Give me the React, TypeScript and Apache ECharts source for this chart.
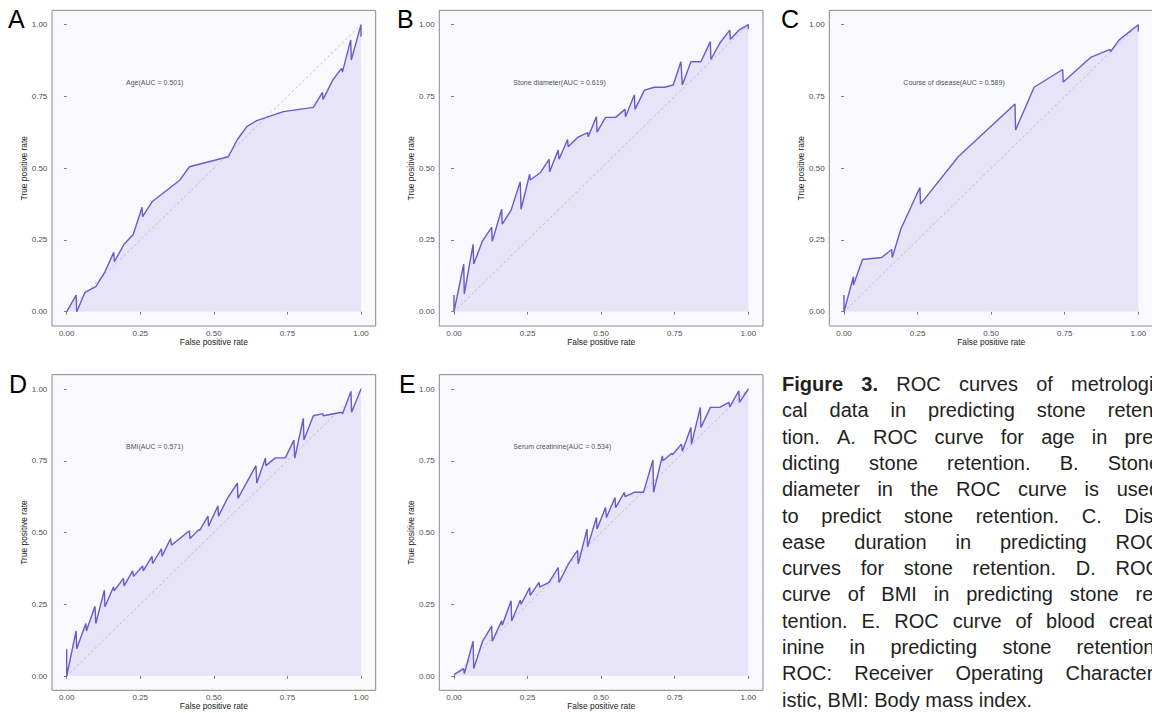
import React, { useEffect, useRef } from "react";
import * as echarts from "echarts";

// ---------------- data ----------------
const panelLetters = ["A", "B", "C", "D", "E"];
const annotations = [
  "Age(AUC = 0.501)",
  "Stone diameter(AUC = 0.619)",
  "Course of disease(AUC = 0.589)",
  "BMI(AUC = 0.571)",
  "Serum creatinine(AUC = 0.534)",
];
const xTitle = "False positive rate";
const yTitle = "True positive rate";
const annotationAt = [0.2, 0.8];
const diagonal = [[-0.05, -0.05], [1.05, 1.05]];

const fprAge = [0, 0.032, 0.034, 0.062, 0.099, 0.13, 0.16, 0.162, 0.195, 0.226, 0.256, 0.258, 0.291, 0.385, 0.417, 0.549, 0.58, 0.612, 0.646, 0.736, 0.838, 0.869, 0.871, 0.904, 0.934, 0.937, 0.965, 0.967, 1.0, 1.0];
const tprAge = [0, 0.058, 0, 0.067, 0.087, 0.139, 0.207, 0.174, 0.235, 0.269, 0.364, 0.331, 0.384, 0.459, 0.505, 0.54, 0.6, 0.645, 0.666, 0.697, 0.712, 0.764, 0.74, 0.807, 0.848, 0.835, 0.947, 0.877, 1.0, 0.958];

const fprStone = [0, 0, 0.033, 0.035, 0.065, 0.067, 0.097, 0.128, 0.13, 0.162, 0.164, 0.194, 0.225, 0.228, 0.257, 0.259, 0.293, 0.323, 0.325, 0.354, 0.357, 0.386, 0.388, 0.42, 0.454, 0.456, 0.484, 0.486, 0.515, 0.549, 0.581, 0.583, 0.613, 0.615, 0.647, 0.681, 0.715, 0.745, 0.771, 0.776, 0.805, 0.839, 0.871, 0.873, 0.904, 0.937, 0.939, 0.968, 1.0, 1.0];
const tprStone = [0.058, 0, 0.166, 0.062, 0.235, 0.166, 0.247, 0.294, 0.245, 0.357, 0.305, 0.354, 0.453, 0.357, 0.479, 0.459, 0.484, 0.531, 0.488, 0.563, 0.531, 0.6, 0.575, 0.607, 0.624, 0.61, 0.679, 0.626, 0.677, 0.677, 0.705, 0.679, 0.756, 0.705, 0.772, 0.782, 0.782, 0.79, 0.871, 0.79, 0.871, 0.871, 0.941, 0.879, 0.937, 0.981, 0.949, 0.981, 1.0, 0.984];

const fprCourse = [0, 0, 0.032, 0.032, 0.063, 0.128, 0.162, 0.164, 0.194, 0.258, 0.26, 0.388, 0.581, 0.583, 0.646, 0.743, 0.745, 0.838, 0.904, 0.906, 0.935, 1.0, 1.0];
const tprCourse = [0.058, 0, 0.122, 0.093, 0.182, 0.189, 0.217, 0.189, 0.29, 0.433, 0.375, 0.54, 0.724, 0.633, 0.782, 0.844, 0.8, 0.886, 0.914, 0.906, 0.947, 1.0, 0.976];

const fprBmi = [0, 0, 0.032, 0.034, 0.065, 0.067, 0.096, 0.099, 0.128, 0.13, 0.159, 0.161, 0.193, 0.195, 0.224, 0.227, 0.258, 0.26, 0.29, 0.292, 0.322, 0.324, 0.353, 0.356, 0.417, 0.419, 0.449, 0.451, 0.48, 0.482, 0.514, 0.516, 0.546, 0.58, 0.582, 0.643, 0.646, 0.675, 0.677, 0.709, 0.743, 0.772, 0.775, 0.804, 0.806, 0.838, 0.87, 0.872, 0.934, 0.937, 0.966, 0.968, 1.0];
const tprBmi = [0.093, 0, 0.157, 0.095, 0.183, 0.157, 0.243, 0.183, 0.299, 0.241, 0.31, 0.297, 0.34, 0.314, 0.366, 0.347, 0.383, 0.366, 0.417, 0.392, 0.443, 0.417, 0.479, 0.456, 0.506, 0.479, 0.51, 0.506, 0.557, 0.522, 0.593, 0.557, 0.619, 0.672, 0.619, 0.733, 0.672, 0.759, 0.733, 0.76, 0.76, 0.822, 0.759, 0.898, 0.822, 0.907, 0.914, 0.907, 0.919, 0.913, 0.992, 0.919, 1.0];

const fprCreat = [0, 0.033, 0.035, 0.065, 0.067, 0.097, 0.128, 0.13, 0.162, 0.164, 0.194, 0.196, 0.225, 0.228, 0.257, 0.259, 0.289, 0.291, 0.323, 0.354, 0.357, 0.386, 0.388, 0.42, 0.422, 0.452, 0.454, 0.484, 0.486, 0.515, 0.518, 0.547, 0.549, 0.579, 0.581, 0.613, 0.644, 0.676, 0.678, 0.708, 0.71, 0.74, 0.742, 0.773, 0.776, 0.805, 0.807, 0.837, 0.839, 0.871, 0.903, 0.934, 0.937, 0.968, 0.97, 1.0];
const tprCreat = [0.005, 0.026, 0.008, 0.121, 0.026, 0.121, 0.174, 0.121, 0.192, 0.177, 0.262, 0.192, 0.264, 0.25, 0.308, 0.281, 0.326, 0.31, 0.326, 0.378, 0.326, 0.384, 0.39, 0.438, 0.39, 0.512, 0.45, 0.552, 0.512, 0.587, 0.552, 0.622, 0.587, 0.64, 0.625, 0.64, 0.64, 0.753, 0.64, 0.767, 0.75, 0.776, 0.771, 0.808, 0.783, 0.866, 0.808, 0.936, 0.866, 0.936, 0.936, 0.953, 0.938, 0.994, 0.953, 1.0];

const fprList = [fprAge, fprStone, fprCourse, fprBmi, fprCreat];
const tprList = [tprAge, tprStone, tprCourse, tprBmi, tprCreat];

const captionLines = [
  "Figure 3. ROC curves of metrologi-",
  "cal data in predicting stone reten-",
  "tion. A. ROC curve for age in pre-",
  "dicting stone retention. B. Stone",
  "diameter in the ROC curve is used",
  "to predict stone retention. C. Dis-",
  "ease duration in predicting ROC",
  "curves for stone retention. D. ROC",
  "curve of BMI in predicting stone re-",
  "tention. E. ROC curve of blood creat-",
  "inine in predicting stone retention.",
  "ROC: Receiver Operating Character-",
  "istic, BMI: Body mass index.",
];
const captionBoldWords = 2;

// ---------------- layout (positions / styles) ----------------
const panelPos = [
  { left: 66.7, top: 24.7 },
  { left: 454, top: 24.7 },
  { left: 844, top: 24.7 },
  { left: 66.7, top: 389 },
  { left: 454, top: 389 },
];
const PW = 294.3;
const PH = 287;
const PADX = 14.7;
const PADY = 14.35;
const letterPos = [
  { x: 8, y: 19 },
  { x: 397, y: 19 },
  { x: 781, y: 19 },
  { x: 9, y: 383.5 },
  { x: 399, y: 383.5 },
];
const CAP_L = 782;
const CAP_R = 1160;
const CAP_TOP = 384;
const CAP_LH = 26.3;
const CAP_FS = 20;
const FONT = '"Liberation Sans", Arial, sans-serif';
const LINE_COLOR = "#6a5acd";
const AREA_COLOR = "#e7e4f7";
const PANEL_BG = "#f8f8fd";

function buildCaption(): any[] {
  const canvas = document.createElement("canvas");
  const ctx = canvas.getContext("2d")!;
  const measure = (t: string, bold: boolean) => {
    ctx.font = `${bold ? "bold " : ""}${CAP_FS}px "Liberation Sans"`;
    return ctx.measureText(t).width;
  };
  const els: any[] = [];
  captionLines.forEach((line, li) => {
    const words = line.split(" ");
    const bolds = words.map((_, wi) => li === 0 && wi < captionBoldWords);
    const widths = words.map((w, wi) => measure(w, bolds[wi]));
    const total = widths.reduce((a, b) => a + b, 0);
    const isLast = li === captionLines.length - 1;
    const natural = measure(" ", false);
    let gap = isLast || words.length < 2 ? natural : (CAP_R - CAP_L - total) / (words.length - 1);
    if (gap < natural * 0.8) gap = natural * 0.8;
    let x = CAP_L;
    const y = CAP_TOP + li * CAP_LH;
    words.forEach((w, wi) => {
      els.push({
        type: "text",
        x,
        y,
        z: 10,
        style: {
          text: w,
          fontSize: CAP_FS,
          fontFamily: FONT,
          fontWeight: bolds[wi] ? "bold" : "normal",
          fill: "#231f20",
          align: "left",
          verticalAlign: "middle",
          textAlign: "left",
          textVerticalAlign: "middle",
        },
      });
      x += widths[wi] + gap;
    });
  });
  return els;
}

function buildOption(): any {
  const grid: any[] = [];
  const xAxis: any[] = [];
  const yAxis: any[] = [];
  const series: any[] = [];
  const graphic: any[] = [];

  panelPos.forEach((p, i) => {
    grid.push({ left: p.left, top: p.top, width: PW, height: PH, containLabel: false });
    const common = {
      gridIndex: i,
      type: "value",
      min: 0,
      max: 1,
      interval: 0.25,
      axisLine: { show: false },
      axisTick: { show: true, length: 2.8, lineStyle: { color: "#555", width: 0.8 } },
      splitLine: { show: false },
      nameLocation: "middle",
      nameTextStyle: { fontSize: 8.4, color: "#1a1a1a", fontFamily: FONT },
    };
    xAxis.push({
      ...common,
      position: "bottom",
      offset: PADY,
      axisLabel: { fontSize: 8, color: "#4d4d4d", margin: 3, fontFamily: FONT, formatter: (v: number) => v.toFixed(2) },
      name: xTitle,
      nameGap: 12,
    });
    yAxis.push({
      ...common,
      position: "left",
      offset: PADX,
      axisLabel: { fontSize: 8, color: "#4d4d4d", margin: 4.7, fontFamily: FONT, formatter: (v: number) => v.toFixed(2) },
      name: yTitle,
      nameGap: 22,
    });

    const data = fprList[i].map((x, k) => [x, tprList[i][k]]);
    series.push({
      type: "line",
      xAxisIndex: i,
      yAxisIndex: i,
      data,
      symbol: "none",
      silent: true,
      lineStyle: { width: 0, opacity: 0 },
      areaStyle: { color: AREA_COLOR, opacity: 1 },
      z: 1,
    });
    series.push({
      type: "line",
      xAxisIndex: i,
      yAxisIndex: i,
      data: diagonal,
      symbol: "none",
      silent: true,
      clip: false,
      lineStyle: { color: "#a8a8b4", width: 0.7, type: [2.5, 2.5] },
      z: 2,
    });
    series.push({
      type: "line",
      xAxisIndex: i,
      yAxisIndex: i,
      data,
      symbol: "none",
      silent: true,
      clip: false,
      lineStyle: { color: LINE_COLOR, width: 1.4 },
      z: 3,
    });
    series.push({
      type: "scatter",
      xAxisIndex: i,
      yAxisIndex: i,
      data: [annotationAt],
      symbolSize: 1,
      silent: true,
      itemStyle: { color: "rgba(0,0,0,0)" },
      label: {
        show: true,
        position: "right",
        distance: 0,
        formatter: annotations[i],
        fontSize: 7,
        color: "#222",
        fontFamily: FONT,
      },
      z: 4,
    });

    graphic.push({
      type: "rect",
      z: 0,
      silent: true,
      shape: { x: p.left - PADX, y: p.top - PADY, width: PW + 2 * PADX, height: PH + 2 * PADY },
      style: { fill: PANEL_BG, stroke: "#8a8a8a", lineWidth: 1 },
    });
    graphic.push({
      type: "text",
      x: letterPos[i].x,
      y: letterPos[i].y,
      z: 10,
      style: {
        text: panelLetters[i],
        fontSize: 25,
        fontFamily: FONT,
        fill: "#000",
        align: "left",
        verticalAlign: "middle",
        textAlign: "left",
        textVerticalAlign: "middle",
      },
    });
  });

  graphic.push(...buildCaption());

  return {
    animation: false,
    backgroundColor: "#ffffff",
    grid,
    xAxis,
    yAxis,
    series,
    graphic,
  };
}

export default function App() {
  const ref = useRef<HTMLDivElement>(null);
  useEffect(() => {
    if (!ref.current) return;
    const chart = echarts.init(ref.current, null, { renderer: "svg", width: 1152, height: 713 });
    chart.setOption(buildOption());
    return () => chart.dispose();
  }, []);
  return (
    <div
      ref={ref}
      style={{ position: "absolute", left: 0, top: 0, width: 1152, height: 713, overflow: "hidden" }}
    />
  );
}
